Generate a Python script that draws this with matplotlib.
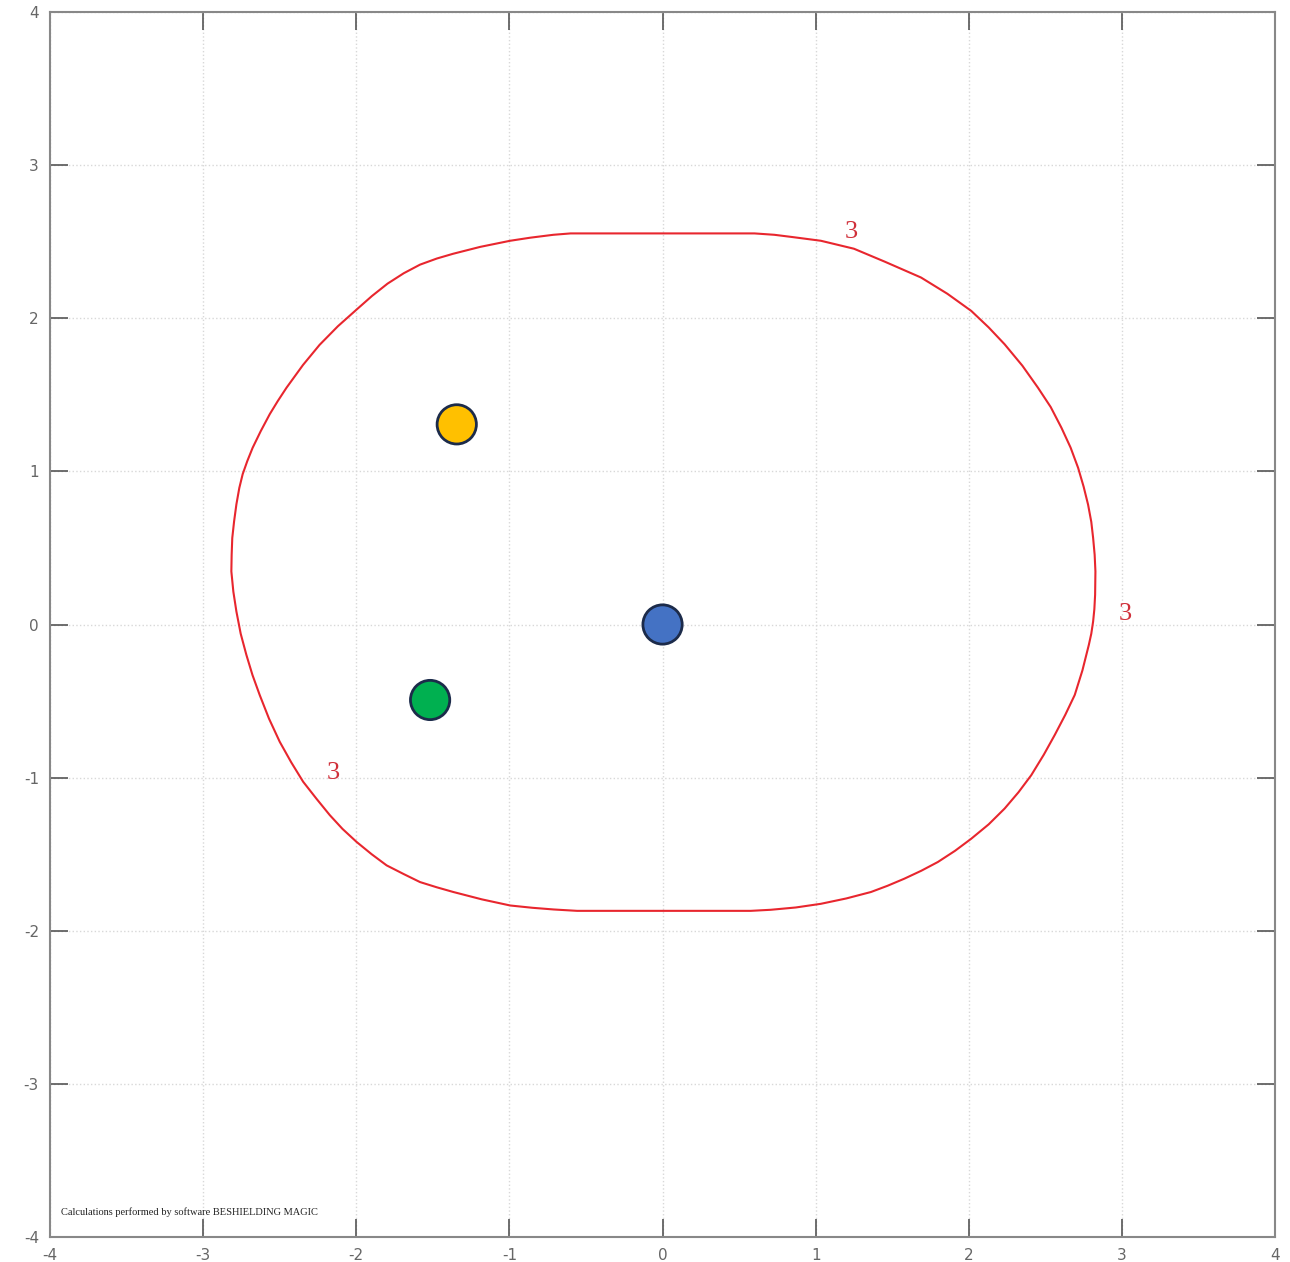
import matplotlib
matplotlib.use("Agg")
import matplotlib.pyplot as plt

plt.rcParams["axes.unicode_minus"] = False

# dose contour (level 3), traced clockwise from the top-left end of the flat top
contour_x = [-0.60, 0.60, 0.73, 0.85, 1.034, 1.25, 1.45, 1.688, 1.86, 2.016,
             2.13, 2.234, 2.35, 2.452, 2.535, 2.605, 2.665, 2.714, 2.75, 2.779,
             2.80, 2.812, 2.822, 2.827, 2.825, 2.820, 2.812, 2.800, 2.784, 2.742,
             2.692, 2.63, 2.561, 2.49, 2.408, 2.325, 2.234, 2.13, 2.016, 1.91,
             1.798, 1.69, 1.579, 1.47, 1.361, 1.20, 1.034, 0.87, 0.707, 0.576,
             -0.558, -0.711, -0.85, -0.995, -1.18, -1.366, -1.475, -1.584,
             -1.69, -1.802, -1.90, -1.998, -2.09, -2.173, -2.26, -2.347,
             -2.425, -2.500, -2.57, -2.631, -2.678, -2.718, -2.755, -2.783,
             -2.803, -2.816, -2.814, -2.810, -2.798, -2.783, -2.764, -2.742,
             -2.712, -2.677, -2.624, -2.565, -2.513, -2.456, -2.348, -2.240,
             -2.120, -2.000, -1.898, -1.796, -1.690, -1.584, -1.474, -1.368,
             -1.191, -0.995, -0.864, -0.713]
contour_y = [2.554, 2.554, 2.545, 2.530, 2.506, 2.454, 2.370, 2.266, 2.160, 2.048,
             1.940, 1.830, 1.690, 1.546, 1.420, 1.285, 1.155, 1.023, 0.900, 0.783,
             0.670, 0.565, 0.455, 0.347, 0.194, 0.100, 0.020, -0.060, -0.133, -0.300,
             -0.460, -0.590, -0.722, -0.850, -0.984, -1.095, -1.202, -1.305, -1.399, -1.478,
             -1.551, -1.608, -1.660, -1.706, -1.747, -1.789, -1.824, -1.848, -1.863, -1.870,
             -1.870, -1.861, -1.850, -1.835, -1.795, -1.747, -1.716, -1.682,
             -1.630, -1.573, -1.500, -1.420, -1.335, -1.245, -1.138, -1.027,
             -0.900, -0.766, -0.615, -0.460, -0.330, -0.198, -0.060, 0.085,
             0.215, 0.347, 0.455, 0.565, 0.674, 0.785, 0.892, 0.982,
             1.067, 1.154, 1.263, 1.374, 1.459, 1.546, 1.695, 1.826,
             1.948, 2.055, 2.145, 2.226, 2.294, 2.350, 2.390, 2.421,
             2.466, 2.506, 2.526, 2.545]

level_label = "3"
label_x = [1.23, 3.02, -2.15]
label_y = [2.56, 0.07, -0.97]

# source positions
src_x = [0.0, -1.344, -1.518]
src_y = [0.0, 1.307, -0.493]
src_colors = ["#4472C4", "#FFC000", "#00B050"]

ticks = [-4, -3, -2, -1, 0, 1, 2, 3, 4]

fig = plt.figure(figsize=(12.9, 12.62), dpi=100)
ax = fig.add_axes([0.0388, 0.0198, 0.9496, 0.9707])

# closed outline so the start and end join cleanly
ax.fill(contour_x, contour_y, fill=False, edgecolor="#e8262e", lw=1.5,
        joinstyle="round", zorder=3)
for lx, ly in zip(label_x, label_y):
    ax.text(lx, ly, level_label, color="#d0303a", fontsize=19,
            family="Liberation Serif", ha="center", va="center", zorder=4)

ax.scatter(src_x, src_y, s=800, c=src_colors, edgecolors="#1c2b4a",
           linewidths=2.0, zorder=5)

ax.set_xlim(-4, 4)
ax.set_ylim(-4, 4)
ax.set_xticks(ticks)
ax.set_yticks(ticks)
ax.grid(True, color="#d8d8d8", linestyle=":", linewidth=1.0)
ax.set_axisbelow(True)
ax.tick_params(direction="in", length=13, width=1.2, color="#555555",
               labelcolor="#666666", labelsize=11, top=True, right=True,
               pad=8)
for sp in ax.spines.values():
    sp.set_color("#888888")
    sp.set_linewidth(1.5)

ax.text(-3.93, -3.84, "Calculations performed by software BESHIELDING MAGIC",
        fontsize=7.5, family="Liberation Serif", color="#222222",
        ha="left", va="center")

fig.savefig("out.png", dpi=100)
